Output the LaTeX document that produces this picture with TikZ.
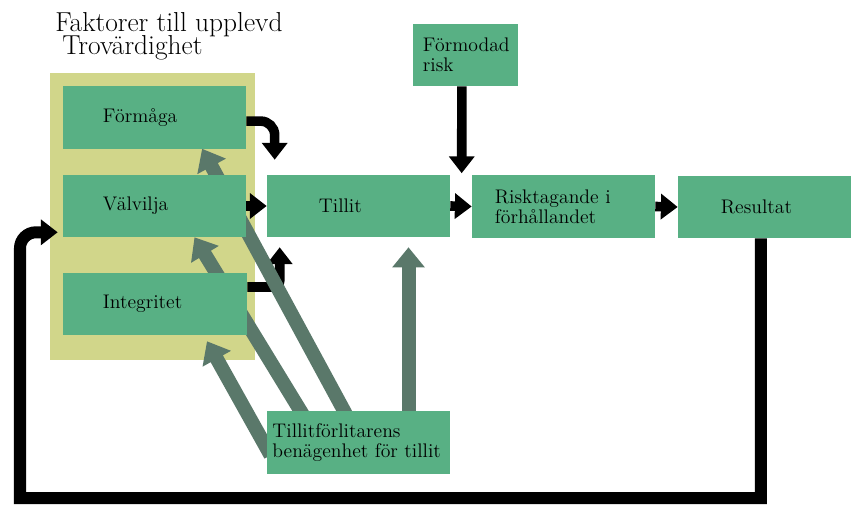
\documentclass[tikz,border=0pt]{standalone}
\usepackage{fontspec}
\usetikzlibrary{arrows.meta,backgrounds}

\definecolor{boxgreen}{RGB}{88,176,132}
\definecolor{bggul}{RGB}{209,214,138}
\definecolor{pilgra}{RGB}{90,120,106}

\tikzset{
  blok/.style={fill=boxgreen, draw=none, minimum height=1.55cm, align=left,
    font=\fontsize{14}{14.5}\selectfont},
  rubrik/.style={anchor=base west, inner sep=0, font=\fontsize{19.5}{20}\selectfont},
  svart/.style={draw=black, line width=0.24cm, -{Triangle[width=0.62cm,length=0.42cm]}},
  gra/.style={draw=pilgra, line width=0.35cm, -{Triangle[width=0.78cm,length=0.5cm]}},
}

\begin{document}
\begin{tikzpicture}[x=0.025cm, y=-0.025cm]
\useasboundingbox (0,0) rectangle (851,507);

% Rubrik
\node[rubrik] (rubrik1) at (55,31) {Faktorer till upplevd};
\node[rubrik] (rubrik2) at (62,54) {Trovärdighet};

% Faktorer
\node[blok, text width=2.575cm, inner xsep=1cm] (formaga) at (154.5,117.5) {Förmåga};
\node[blok, text width=2.575cm, inner xsep=1cm] (valvilja) at (154.5,206) {Välvilja};
\node[blok, text width=2.6cm, inner xsep=1cm] (integritet) at (155,304) {Integritet};

% Kedjan
\node[blok, text width=1.975cm, inner xsep=1.3cm] (tillit) at (358.5,206) {Tillit};
\node[blok, text width=3.425cm, inner xsep=0.575cm] (risk) at (563.5,206.5) {Risktagande i\\förhållandet};
\node[blok, text width=2.175cm, inner xsep=1.075cm] (resultat) at (764.5,207) {Resultat};
\node[blok, text width=2.125cm, inner xsep=0.25cm] (formodad) at (465.5,55) {Förmodad\\risk};
\node[blok, text width=4.3cm, inner xsep=0.14cm] (benagen) at (358.5,442.5) {Tillitförlitarens\\benägenhet för tillit};

\begin{scope}[on background layer]
\fill[bggul] (50,73) rectangle (255,360);

% Svarta pilar
\draw[svart, rounded corners=0.35cm] ([yshift=-0.09cm]formaga.east) -| ([xshift=0.2cm,yshift=0.375cm]tillit.north west);
\draw[svart] (valvilja.east) -- (tillit.west);
\draw[svart, rounded corners=0.15cm] ([yshift=0.425cm]integritet.east) -| ([xshift=0.325cm,yshift=-0.25cm]tillit.south west);
\draw[svart] ([xshift=-0.09cm]formodad.south) -- ([xshift=-0.25cm,yshift=0.05cm]risk.north west);
\draw[svart] (tillit.east) -- (risk.west);
\draw[svart] (risk.east) -- (resultat.west);

% Återkoppling
\coordinate (retur) at (20,498);
\draw[svart, line width=0.3cm] ([xshift=-0.09cm]resultat.south) |- (retur) [rounded corners=0.4cm] |- ([xshift=-0.125cm,yshift=0.125cm]valvilja.south west);

% Gra pilar
\draw[gra] ([xshift=2.05cm,yshift=-0.2cm]benagen.north west) -- ([xshift=1.19cm]formaga.south);
\draw[gra] ([xshift=0.975cm,yshift=-0.2cm]benagen.north west) -- ([xshift=1.0cm]valvilja.south);
\draw[gra] ([xshift=0.1cm,yshift=-1.1cm]benagen.north west) -- ([xshift=1.3cm,yshift=-0.15cm]integritet.south);
\draw[gra] ([xshift=1.25cm,yshift=-0.1cm]benagen.north) -- ([xshift=1.25cm,yshift=-0.25cm]tillit.south);
\end{scope}
\end{tikzpicture}
\end{document}
